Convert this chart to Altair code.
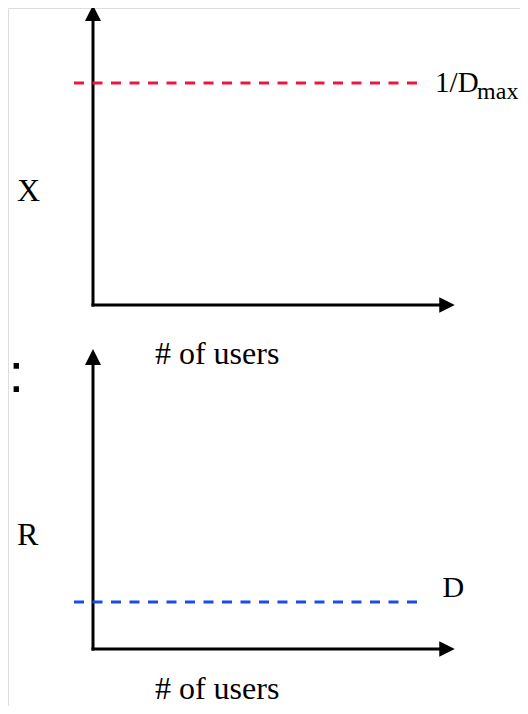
import altair as alt
import pandas as pd

# ---- schematic values (axis units: origin 0, arrow tip near 10) ----
panels = ["X", "R"]                 # top panel: throughput X, bottom panel: response time R
panel_offset = [11.467, 0.0]        # vertical stacking of the two panels (axis units)
axis_end_x = [9.6, 9.6]             # users axis runs to arrow head
axis_end_y = [9.5, 9.5]             # metric axis runs to arrow head
arrow_x = [9.78, 9.78]
arrow_y = [9.73, 9.73]
ref_level = [7.4, 1.57]             # 1/Dmax (top) and D (bottom)
ref_start = [-0.525, -0.525]
ref_end = [8.95, 8.95]
ref_colors = ["#ef163e", "#1a4de6"]

# text labels
label_text = ["X", "# of users", "1/D", "max", "R", "# of users", "D"]
label_panel = [0, 0, 0, 0, 1, 1, 1]
label_x = [-2.10, 3.43, 9.45, 10.61, -2.10, 3.43, 9.655]
label_y = [3.47, -1.97, 7.10, 6.87, 3.47, -1.667, 1.733]
label_size = [32, 32, 29, 24, 32, 32, 30]
label_align = ["left", "center", "left", "left", "left", "center", "left"]

colon_text = [":"]
colon_x = [-2.12]
colon_y = [-2.9]

# ---- tables ----
rules = []
for i, p in enumerate(panels):
    o = panel_offset[i]
    rules.append(dict(panel=p, x=0, x2=0, y=o, y2=o + axis_end_y[i]))
    rules.append(dict(panel=p, x=0, x2=axis_end_x[i], y=o, y2=o))
rules = pd.DataFrame(rules)

up = pd.DataFrame(dict(panel=panels, x=[0, 0],
                       y=[panel_offset[i] + arrow_y[i] for i in range(2)]))
right = pd.DataFrame(dict(panel=panels, x=arrow_x,
                          y=[panel_offset[i] for i in range(2)]))
refs = pd.DataFrame(dict(panel=panels, x=ref_start, x2=ref_end,
                         y=[panel_offset[i] + ref_level[i] for i in range(2)]))
labels = pd.DataFrame(dict(text=label_text,
                           x=label_x,
                           y=[panel_offset[p] + v for p, v in zip(label_panel, label_y)],
                           fs=label_size, al=label_align))
colon = pd.DataFrame(dict(text=colon_text, x=colon_x,
                          y=[panel_offset[0] + colon_y[0]]))

xs = alt.Scale(domain=[-2.348, 11.796], nice=False, zero=False)
ys = alt.Scale(domain=[-1.9, 21.367], nice=False, zero=False)

def X(f="x"):
    return alt.X(f + ":Q", scale=xs, axis=None)

def Y(f="y"):
    return alt.Y(f + ":Q", scale=ys, axis=None)

axes_layer = alt.Chart(rules).mark_rule(color="black", strokeWidth=3, strokeCap="square").encode(
    x=X(), x2="x2:Q", y=Y(), y2="y2:Q")

up_layer = alt.Chart(up).mark_point(shape="M0,-1L-1,1L1,1Z", filled=True, size=256,
                                    color="black", opacity=1, strokeWidth=0).encode(x=X(), y=Y())
right_layer = alt.Chart(right).mark_point(shape="M1,0L-1,-1L-1,1Z", filled=True, size=240,
                                          color="black", opacity=1, strokeWidth=0).encode(x=X(), y=Y())

ref_layer = alt.Chart(refs).mark_rule(strokeWidth=3, strokeDash=[10, 8.5]).encode(
    x=X(), x2="x2:Q", y=Y(),
    color=alt.Color("panel:N", scale=alt.Scale(domain=panels, range=ref_colors), legend=None))

text_left = alt.Chart(labels).transform_filter(alt.datum.al == "left").mark_text(
    font="Liberation Serif", align="left", baseline="alphabetic", color="black").encode(
    x=X(), y=Y(), text="text:N", size=alt.Size("fs:Q", scale=None))
text_center = alt.Chart(labels).transform_filter(alt.datum.al == "center").mark_text(
    font="Liberation Serif", align="center", baseline="alphabetic", color="black").encode(
    x=X(), y=Y(), text="text:N", size=alt.Size("fs:Q", scale=None))

colon_layer = alt.Chart(colon).mark_text(font="Liberation Sans", fontSize=56, align="center",
                                         baseline="alphabetic", color="black").encode(
    x=X(), y=Y(), text="text:N")

chart = alt.layer(axes_layer, up_layer, right_layer, ref_layer, text_left, text_center,
                  colon_layer).properties(
    width=512, height=698, padding=0, autosize=alt.AutoSizeParams(type="none")
).configure_view(strokeWidth=0, stroke="transparent").configure(background="white")

chart.save("out.html", embed_options={"renderer": "svg", "actions": False})
